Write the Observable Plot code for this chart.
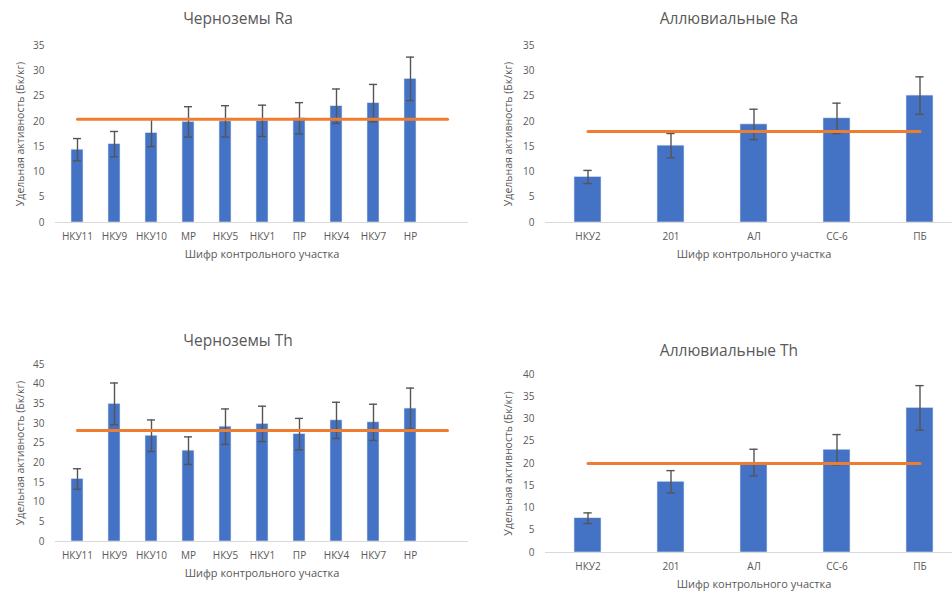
<!DOCTYPE html>
<html>
<head>
<meta charset="utf-8">
<script src="https://cdn.jsdelivr.net/npm/d3@7"></script>
<script src="https://cdn.jsdelivr.net/npm/@observablehq/plot@0.6"></script>
<style>
  html, body { margin: 0; padding: 0; background: #fff; width: 952px; height: 599px; overflow: hidden; position: relative; }
  .panel { position: absolute; }
  .panel svg { max-width: none !important; overflow: visible; }
  .title { position: absolute; transform: translate(-50%, -50%); font-family: "Open Sans", sans-serif; font-size: 15.5px; color: #595959; white-space: nowrap; }
</style>
</head>
<body>
<script>
// ---- data ----
const chernCats = ["НКУ11", "НКУ9", "НКУ10", "МР", "НКУ5", "НКУ1", "ПР", "НКУ4", "НКУ7", "НР"];
const chernRa = [14.4, 15.5, 17.7, 19.9, 20.0, 20.1, 20.6, 23.0, 23.6, 28.4];
const chernRaErr = [2.2, 2.5, 2.7, 3.0, 3.1, 3.1, 3.1, 3.4, 3.7, 4.3];
const chernRaMean = 20.4;
const chernTh = [15.9, 35.0, 26.9, 23.1, 29.2, 29.9, 27.3, 30.8, 30.3, 33.8];
const chernThErr = [2.6, 5.3, 4.0, 3.5, 4.5, 4.5, 4.0, 4.6, 4.6, 5.2];
const chernThMean = 28.2;

const alluvCats = ["НКУ2", "201", "АЛ", "СС-6", "ПБ"];
const alluvRa = [9.0, 15.2, 19.4, 20.6, 25.1];
const alluvRaErr = [1.3, 2.4, 3.0, 3.0, 3.7];
const alluvRaMean = 18.0;
const alluvTh = [7.7, 15.9, 20.2, 23.1, 32.5];
const alluvThErr = [1.2, 2.5, 3.0, 3.4, 5.0];
const alluvThMean = 20.0;

const titles = ["Черноземы Ra", "Аллювиальные Ra", "Черноземы Th", "Аллювиальные Th"];
const yLabel = "Удельная активность (Бк/кг)";
const xLabel = "Шифр контрольного участка";
const EMPTY = "\u2007"; // empty trailing category in chernozem charts

function makePanel({cats, vals, errs, mean, extraCat, yMax, width, height, mL, mR, mT, mB, padInner, yLabX}) {
  const domain = extraCat ? [...cats, EMPTY] : cats;
  const rows = cats.map((c, i) => ({c, v: vals[i], e: errs[i]}));
  const meanRows = domain.map(c => ({c, m: mean}));
  const step = (width - mL - mR) / domain.length;
  const bw = step * (1 - padInner);
  const capInset = Math.max(0, (bw - 8) / 2);
  return Plot.plot({
    width, height,
    marginLeft: mL, marginRight: mR, marginTop: mT, marginBottom: mB,
    style: {fontFamily: "Open Sans, sans-serif", fontSize: "10px", color: "#595959", background: "transparent", maxWidth: "none"},
    x: {type: "band", domain, paddingInner: padInner, paddingOuter: padInner / 2, label: null},
    y: {domain: [0, yMax], label: null},
    marks: [
      Plot.barY(rows, {x: "c", y: "v", fill: "#4472C4", stroke: "#dfe6f3", strokeWidth: 0.6}),
      Plot.ruleY([0], {stroke: "#d9d9d9", strokeWidth: 1}),
      Plot.ruleX(rows, {x: "c", y1: d => d.v - d.e, y2: d => d.v + d.e, stroke: "#555", strokeWidth: 1.4}),
      Plot.tickY(rows, {x: "c", y: d => d.v + d.e, stroke: "#555", strokeWidth: 1.4, insetLeft: capInset, insetRight: capInset}),
      Plot.tickY(rows, {x: "c", y: d => d.v - d.e, stroke: "#555", strokeWidth: 1.4, insetLeft: capInset, insetRight: capInset}),
      Plot.lineY(meanRows, {x: "c", y: "m", stroke: "#ED7D31", strokeWidth: 3}),
      Plot.axisY({ticks: d3.range(0, yMax + 1, 5), tickSize: 0, tickPadding: 11, label: null, fill: "#595959"}),
      Plot.axisX({tickSize: 0, tickPadding: 10, label: null, fill: "#595959", tickFormat: d => d === EMPTY ? "" : d}),
      Plot.text([yLabel], {frameAnchor: "left", textAnchor: "middle", dx: -mL + yLabX, rotate: -90, fontSize: 10.5, fill: "#595959"}),
      Plot.text([xLabel], {frameAnchor: "bottom", dy: 35, fontSize: 11, fill: "#595959"})
    ]
  });
}

const panels = [
  {left: 0, top: 0, cfg: {cats: chernCats, vals: chernRa, errs: chernRaErr, mean: chernRaMean, extraCat: true, yMax: 35,
     width: 480, height: 270, mL: 55, mR: 12, mT: 45, mB: 48, padInner: 0.68, yLabX: 20}},
  {left: 490, top: 0, cfg: {cats: alluvCats, vals: alluvRa, errs: alluvRaErr, mean: alluvRaMean, extraCat: false, yMax: 35,
     width: 472, height: 270, mL: 55, mR: 0, mT: 45, mB: 48, padInner: 0.68, yLabX: 18}},
  {left: 0, top: 320, cfg: {cats: chernCats, vals: chernTh, errs: chernThErr, mean: chernThMean, extraCat: true, yMax: 45,
     width: 480, height: 270, mL: 55, mR: 12, mT: 44, mB: 49, padInner: 0.68, yLabX: 20}},
  {left: 490, top: 330, cfg: {cats: alluvCats, vals: alluvTh, errs: alluvThErr, mean: alluvThMean, extraCat: false, yMax: 40,
     width: 472, height: 268, mL: 55, mR: 0, mT: 44, mB: 46, padInner: 0.68, yLabX: 18}}
];

const titlePos = [[238, 18], [729, 18], [238, 340], [729, 350]];

panels.forEach((p, i) => {
  const div = document.createElement("div");
  div.className = "panel";
  div.style.left = p.left + "px";
  div.style.top = p.top + "px";
  div.style.width = p.cfg.width + "px";
  div.style.height = p.cfg.height + "px";
  div.appendChild(makePanel(p.cfg));
  document.body.appendChild(div);
  const t = document.createElement("div");
  t.className = "title";
  t.textContent = titles[i];
  t.style.left = titlePos[i][0] + "px";
  t.style.top = titlePos[i][1] + "px";
  document.body.appendChild(t);
});
</script>
</body>
</html>
